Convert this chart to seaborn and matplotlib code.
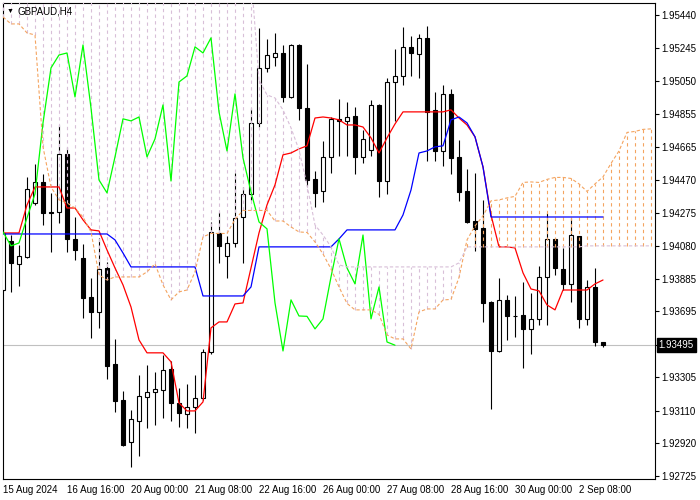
import numpy as np
import pandas as pd
import matplotlib
matplotlib.use("Agg")
import matplotlib.pyplot as plt
import seaborn as sns

# --- STYLE ---
sns.set_style("white")
plt.rcParams['font.family'] = ['Liberation Sans', 'DejaVu Sans']

# --- DATA (GBPAUD H4) ---
opens = [1.93820, 1.94109, 1.93974, 1.94015, 1.94333, 1.94456, 1.94280, 1.94280, 1.94621, 1.94121,
         1.94009, 1.93779, 1.93691, 1.93950, 1.93385, 1.93173, 1.92925, 1.93049, 1.93190, 1.93220,
         1.93232, 1.93355, 1.93155, 1.93090, 1.93131, 1.93184, 1.93455, 1.94156, 1.94021, 1.94097,
         1.94250, 1.94386, 1.94804, 1.95128, 1.95193, 1.95216, 1.94957, 1.95263, 1.94892, 1.94474,
         1.94403, 1.94604, 1.94828, 1.94816, 1.94845, 1.94604, 1.94645, 1.94910, 1.94462, 1.95045,
         1.95081, 1.95252, 1.95210, 1.95305, 1.94881, 1.94639, 1.94975, 1.94604, 1.94403, 1.94227,
         1.94186, 1.93750, 1.93461, 1.93762, 1.93667, 1.93673, 1.93591, 1.93650, 1.93897, 1.94121,
         1.93944, 1.93856, 1.94138, 1.93650, 1.93838, 1.93514]
highs = [1.94233, 1.94144, 1.94085, 1.94486, 1.94562, 1.94504, 1.94392, 1.94792, 1.94663, 1.94250,
         1.94091, 1.93891, 1.94127, 1.93985, 1.93532, 1.93226, 1.93114, 1.93320, 1.93379, 1.93338,
         1.93438, 1.93402, 1.93243, 1.93267, 1.93320, 1.93473, 1.94221, 1.94280, 1.94138, 1.94510,
         1.94427, 1.94892, 1.95363, 1.95299, 1.95334, 1.95263, 1.95269, 1.95269, 1.95151, 1.94521,
         1.94698, 1.94839, 1.94945, 1.94928, 1.94898, 1.94763, 1.94939, 1.94916, 1.95069, 1.95240,
         1.95369, 1.95316, 1.95328, 1.95375, 1.94987, 1.95028, 1.95004, 1.94704, 1.94533, 1.94510,
         1.94351, 1.93756, 1.93891, 1.93791, 1.93785, 1.93868, 1.93803, 1.93962, 1.94274, 1.94126,
         1.94068, 1.94245, 1.94141, 1.93879, 1.93950, 1.93516]
lows = [1.93815, 1.93809, 1.93844, 1.94009, 1.94321, 1.94203, 1.94044, 1.94215, 1.94044, 1.93997,
        1.93656, 1.93538, 1.93597, 1.93296, 1.93102, 1.92902, 1.92778, 1.92843, 1.93008, 1.93026,
        1.93067, 1.93049, 1.93014, 1.93008, 1.92978, 1.93173, 1.93444, 1.93980, 1.93891, 1.94074,
        1.93980, 1.94351, 1.94780, 1.95104, 1.95140, 1.94928, 1.94950, 1.94822, 1.94433, 1.94309,
        1.94339, 1.94510, 1.94610, 1.94610, 1.94504, 1.94568, 1.94610, 1.94368, 1.94386, 1.94816,
        1.95028, 1.95081, 1.95069, 1.94580, 1.94580, 1.94551, 1.94504, 1.94345, 1.94215, 1.94050,
        1.93632, 1.93120, 1.93455, 1.93526, 1.93544, 1.93361, 1.93444, 1.93614, 1.93614, 1.93909,
        1.93820, 1.93750, 1.93597, 1.93614, 1.93491, 1.93485]
closes = [1.94156, 1.93980, 1.94021, 1.94415, 1.94456, 1.94274, 1.94274, 1.94621, 1.94121, 1.94056,
          1.93773, 1.93691, 1.93944, 1.93373, 1.93167, 1.92908, 1.93061, 1.93196, 1.93220, 1.93238,
          1.93349, 1.93155, 1.93096, 1.93131, 1.93184, 1.93455, 1.94162, 1.94080, 1.94097, 1.94245,
          1.94386, 1.94804, 1.95128, 1.95204, 1.95216, 1.94957, 1.95263, 1.94892, 1.94468, 1.94392,
          1.94604, 1.94828, 1.94816, 1.94839, 1.94604, 1.94710, 1.94910, 1.94462, 1.95045, 1.95081,
          1.95252, 1.95216, 1.95305, 1.94869, 1.94639, 1.94975, 1.94598, 1.94398, 1.94221, 1.94180,
          1.93744, 1.93461, 1.93762, 1.93667, 1.93665, 1.93591, 1.93650, 1.93897, 1.94121, 1.93950,
          1.93856, 1.94144, 1.93650, 1.93838, 1.93514, 1.93495]

# Ichimoku lines
tenkan = [1.94156, 1.94156, 1.94156, 1.94321, 1.94427, 1.94427, 1.94427, 1.94427, 1.94303, 1.94303,
          1.94233, 1.94174, 1.94168, 1.94056, 1.93950, 1.93850, 1.93720, 1.93526, 1.93450, 1.93450,
          1.93450, 1.93397, 1.93155, 1.93108, 1.93108, 1.93161, 1.93597, 1.93632, 1.93632, 1.93738,
          1.93744, 1.93950, 1.94156, 1.94321, 1.94439, 1.94616, 1.94627, 1.94651, 1.94669, 1.94833,
          1.94839, 1.94833, 1.94822, 1.94792, 1.94792, 1.94780, 1.94716, 1.94627, 1.94716, 1.94798,
          1.94869, 1.94869, 1.94869, 1.94869, 1.94869, 1.94869, 1.94881, 1.94833, 1.94792, 1.94722,
          1.94545, 1.94262, 1.94074, 1.94074, 1.94068, 1.93921, 1.93826, 1.93815, 1.93732, 1.93703,
          1.93820, 1.93820, 1.93820, 1.93820, 1.93856, 1.93879]
kijun = [1.94150, 1.94150, 1.94150, 1.94150, 1.94150, 1.94150, 1.94150, 1.94150, 1.94150, 1.94150,
         1.94150, 1.94150, 1.94150, 1.94150, 1.94115, 1.94038, 1.93956, 1.93956, 1.93956, 1.93956,
         1.93956, 1.93956, 1.93956, 1.93956, 1.93956, 1.93785, 1.93785, 1.93785, 1.93785, 1.93785,
         1.93785, 1.93838, 1.94074, 1.94074, 1.94074, 1.94074, 1.94074, 1.94074, 1.94074, 1.94074,
         1.94074, 1.94074, 1.94121, 1.94174, 1.94174, 1.94174, 1.94174, 1.94174, 1.94174, 1.94174,
         1.94262, 1.94409, 1.94627, 1.94639, 1.94663, 1.94669, 1.94822, 1.94839, 1.94804, 1.94722,
         1.94545, 1.94250, 1.94250, 1.94250, 1.94250, 1.94250, 1.94250, 1.94250, 1.94250, 1.94250,
         1.94250, 1.94250, 1.94250, 1.94250, 1.94250, 1.94250]
# Senkou A before the visible tenkan/kijun history (first 26 bars)
span_a_early = [1.95428, 1.95387, 1.95387, 1.95334, 1.95322, 1.94663, 1.94427, 1.94351, 1.94333, 1.94303,
                1.94250, 1.94162, 1.93909, 1.93879, 1.93897, 1.93897, 1.93897, 1.93897, 1.93927, 1.93974,
                1.93850, 1.93762, 1.93809, 1.93820, 1.93927, 1.94133]
span_b = [1.95680] * 32 + [1.95057, 1.94969, 1.94951, 1.94881, 1.94775, 1.94645, 1.94439, 1.94203,
                           1.94144, 1.94074, 1.93968] + [1.93956] * 14 + [1.93980] + [1.94074] * 15 + [1.94080] * 9

x_labels = ['15 Aug 2024', '16 Aug 16:00', '20 Aug 00:00', '21 Aug 08:00', '22 Aug 16:00',
            '26 Aug 00:00', '27 Aug 08:00', '28 Aug 16:00', '30 Aug 00:00', '2 Sep 08:00']
y_ticks = [1.95440, 1.95245, 1.95050, 1.94855, 1.94665, 1.94470, 1.94275, 1.94080,
           1.93885, 1.93695, 1.93495, 1.93305, 1.93110, 1.92920, 1.92725]
last_price = 1.93495
shift = 26

df = pd.DataFrame({'open': opens, 'high': highs, 'low': lows, 'close': closes})
df['idx'] = np.arange(len(df))
df['tenkan'] = tenkan
df['kijun'] = kijun

# cloud (senkou spans are shifted 26 bars forward)
n_cloud = len(span_b)
cloud = pd.DataFrame({'idx': np.arange(n_cloud)})
cloud['span_a'] = span_a_early + list((df['tenkan'] + df['kijun']).values[:n_cloud - shift] / 2)
cloud['span_b'] = span_b

# chikou = close shifted 26 bars back
chikou = pd.DataFrame({'idx': df['idx'].values[:len(df) - shift], 'val': df['close'].values[shift:]})

# --- PLOT ---
fig = plt.figure(figsize=(7, 5), dpi=100)
ax = fig.add_axes([2.5 / 700, 21 / 500, 652.5 / 700, 476.3 / 500])

ax.axhline(last_price, color='#C0C0C0', lw=0.8, zorder=1)

# candles
bull = df['close'] >= df['open']
body_low = df[['open', 'close']].min(axis=1)
body_h = (df['close'] - df['open']).abs().clip(lower=0.00004)
ax.vlines(df['idx'], df['low'], df['high'], color='black', lw=0.8, zorder=2)
ax.bar(df['idx'], body_h, bottom=body_low, width=0.58,
       color=np.where(bull, 'white', 'black'), edgecolor='black', lw=0.8, zorder=3)

# cloud hatching
sandy, thistle = '#F4A460', '#D8BFD8'
hatch_col = np.where(cloud['span_a'] > cloud['span_b'], sandy, thistle)
ax.vlines(cloud['idx'], cloud[['span_a', 'span_b']].min(axis=1), cloud[['span_a', 'span_b']].max(axis=1),
          colors=hatch_col, linestyles=(0, (3, 3)), lw=0.8, zorder=4)

sns.lineplot(data=df, x='idx', y='tenkan', color='red', lw=0.9, ax=ax, zorder=5)
sns.lineplot(data=df, x='idx', y='kijun', color='blue', lw=0.9, ax=ax, zorder=5)
sns.lineplot(data=chikou, x='idx', y='val', color='#00FF00', lw=0.9, ax=ax, zorder=5)
sns.lineplot(data=cloud, x='idx', y='span_a', color=sandy, lw=0.8, linestyle=(0, (3, 2)), ax=ax, zorder=5)
sns.lineplot(data=cloud, x='idx', y='span_b', color=thistle, lw=0.8, linestyle=(0, (3, 2)), ax=ax, zorder=5)

# axes
ax.set_xlim(-0.0625, 81.5)
ax.set_ylim(1.92707, 1.95512)
ax.set_xlabel('')
ax.set_ylabel('')
ax.yaxis.tick_right()
ax.set_yticks(y_ticks)
ax.set_yticklabels([f'{v:.5f}' if v != last_price else '' for v in y_ticks])
ax.set_xticks(np.arange(0, 8 * len(x_labels), 8))
ax.set_xticklabels(x_labels, ha='left')
ax.tick_params(axis='y', direction='out', length=3, width=0.8, pad=1.5, labelsize=7, colors='black')
ax.tick_params(axis='x', direction='out', length=3, width=0.8, pad=1.5, labelsize=7, colors='black')
for sp in ax.spines.values():
    sp.set_color('black')
    sp.set_linewidth(0.8)

# current price label
ax.text(1.0055, last_price, f'{last_price:.5f}', transform=ax.get_yaxis_transform(),
        color='white', fontsize=7, va='center', ha='left', clip_on=False, zorder=10,
        bbox=dict(boxstyle='square,pad=0.2', fc='black', ec='black'))

# symbol title
fig.text(7 / 700, 1 - 11 / 500, '\u25bc', fontsize=5, va='center', ha='left', color='black')
fig.text(17 / 700, 1 - 11 / 500, 'GBPAUD,H4', fontsize=7, va='center', ha='left', color='black')

fig.savefig('out.png', dpi=100)
